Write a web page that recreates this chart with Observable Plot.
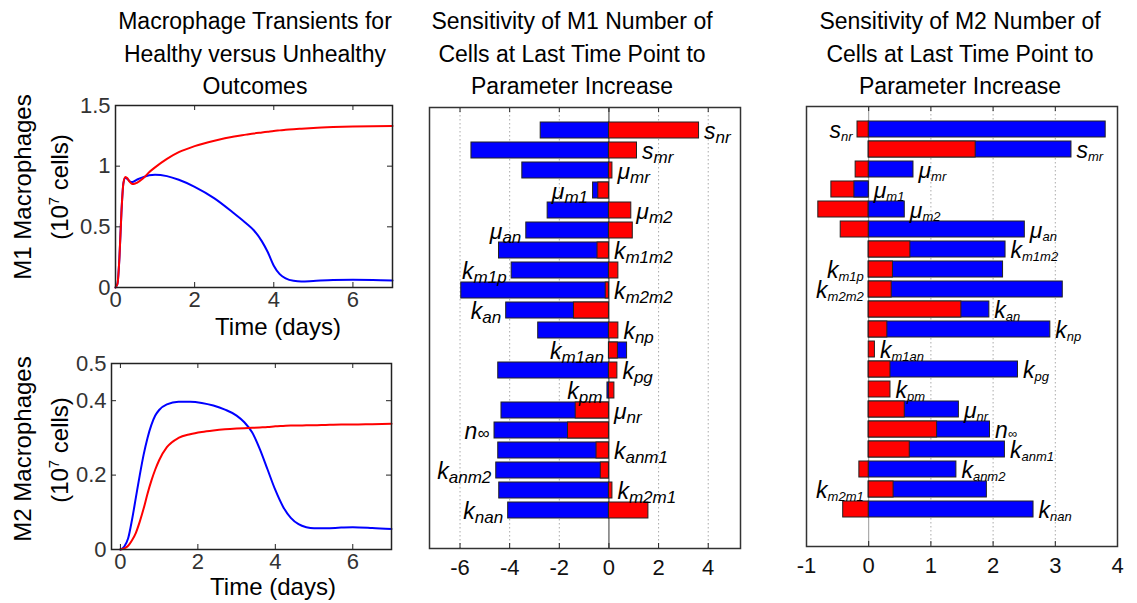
<!DOCTYPE html>
<html><head><meta charset="utf-8">
<script src="https://cdn.jsdelivr.net/npm/d3@7"></script>
<script src="https://cdn.jsdelivr.net/npm/@observablehq/plot@0.6"></script>
<style>
body{margin:0;background:#fff;}
#root{position:relative;width:1137px;height:603px;overflow:hidden;font-family:"Liberation Sans",Arial,sans-serif;background:#fff;}
.title{position:absolute;text-align:center;font-size:23px;line-height:32.5px;color:#000;white-space:nowrap;transform:translateX(-50%);}
.xlab{position:absolute;font-size:24px;line-height:24px;transform:translate(-50%,-50%);white-space:nowrap;color:#000;}
.ylab{position:absolute;font-size:24px;line-height:24px;transform:translate(-50%,-50%) rotate(-90deg);white-space:nowrap;color:#000;}
.ylab sup{font-size:15px;line-height:0;}
</style></head><body><div id="root"></div>
<script>
// ---------------- data ----------------
// transients (10^7 cells) vs time (days); blue = healthy outcome, red = unhealthy outcome
const m1Time = [0,0.05,0.1,0.15,0.2,0.25,0.3,0.35,0.4,0.45,0.55,0.7,0.85,1.0,1.3,1.6,2.0,2.5,3.0,3.3,3.5,3.7,3.85,4.0,4.15,4.3,4.5,4.7,5.0,5.5,6.0,6.5,7.0];
const m1Healthy = [0,0.03,0.25,0.62,0.86,0.905,0.895,0.878,0.87,0.872,0.89,0.91,0.925,0.93,0.918,0.888,0.83,0.735,0.61,0.53,0.47,0.38,0.29,0.18,0.11,0.075,0.055,0.05,0.054,0.061,0.063,0.062,0.058];
const m1Unhealthy = [0,0.03,0.25,0.62,0.86,0.91,0.9,0.875,0.858,0.852,0.865,0.9,0.95,0.99,1.06,1.115,1.165,1.21,1.245,1.26,1.27,1.278,1.284,1.29,1.295,1.3,1.305,1.309,1.315,1.322,1.327,1.33,1.332];
const m2Time = [0,0.1,0.2,0.3,0.4,0.5,0.6,0.7,0.8,0.9,1.0,1.2,1.5,1.8,2.1,2.4,2.7,3.0,3.2,3.4,3.6,3.8,4.0,4.2,4.4,4.6,4.8,5.0,5.3,5.7,6.0,6.5,7.0];
const m2Healthy = [0,0.008,0.03,0.08,0.14,0.2,0.255,0.3,0.335,0.36,0.375,0.39,0.397,0.397,0.394,0.387,0.376,0.36,0.342,0.315,0.27,0.215,0.16,0.115,0.085,0.068,0.06,0.057,0.057,0.059,0.06,0.058,0.055];
const m2Unhealthy = [0,0.003,0.01,0.025,0.045,0.075,0.11,0.15,0.185,0.215,0.24,0.275,0.3,0.31,0.316,0.32,0.323,0.325,0.326,0.327,0.328,0.329,0.331,0.332,0.333,0.333,0.334,0.334,0.335,0.336,0.336,0.337,0.338];
const m1YTicks = [0,0.5,1,1.5];
const m2YTicks = [0,0.2,0.4,0.5];
const timeTicks = [0,2,4,6];

// sensitivity bars (parameter name: base_subscript)
const params = ["s_nr","s_mr","μ_mr","μ_m1","μ_m2","μ_an","k_m1m2","k_m1p","k_m2m2","k_an","k_np","k_m1an","k_pg","k_pm","μ_nr","n_∞","k_anm1","k_anm2","k_m2m1","k_nan"];
const sensM1Healthy   = [-2.75,-5.54,-3.49,-0.64,-2.47,-3.33,-4.43,-3.92,-5.95,-4.14,-2.85,0.73,-4.46,-0.06,-4.33,-4.61,-4.46,-4.54,-4.42,-4.06];
const sensM1Unhealthy = [3.63,1.13,0.14,-0.43,0.90,0.96,-0.46,0.38,-0.13,-1.41,0.38,0.36,0.34,0.22,-1.34,-1.65,-0.50,-0.33,0.14,1.59];
const sensM2Healthy   = [3.81,3.26,0.72,-0.23,0.58,2.51,2.20,2.16,3.12,1.94,2.92,0,2.40,0,1.45,1.95,2.19,1.41,1.90,2.65];
const sensM2Unhealthy = [-0.18,1.72,-0.21,-0.60,-0.81,-0.45,0.67,0.39,0.37,1.49,0.30,0.10,0.35,0.35,0.58,1.10,0.66,-0.15,0.40,-0.41];
const m1XTicks = [-6,-4,-2,0,2,4];
const m2XTicks = [-1,0,1,2,3,4];

// ---------------- layout / style config ----------------
const BLUE = "#0000ff", RED = "#ff0000";
const m1LabelSide = ["R","R","R","L","R","L","R","L","R","L","R","L","R","L","R","L","R","L","R","L"];
const m2LabelSide = ["L","R","R","R","R","R","R","L","L","R","R","R","R","R","R","R","R","R","L","R"];
const FONT = '"Liberation Sans", Arial, sans-serif';
const root = document.getElementById("root");

function place(el, left, top) {
  el.style.position = "absolute"; el.style.left = left + "px"; el.style.top = top + "px";
  root.appendChild(el);
}
function html(cls, left, top, inner) {
  const d = document.createElement("div"); d.className = cls;
  d.style.left = left + "px"; d.style.top = top + "px"; d.innerHTML = inner; root.appendChild(d);
}

function linePanel(o) {
  const pw = o.width - o.ml - o.mr, ph = o.height - o.mt - o.mb;
  const dB = o.time.map((t, i) => ({t, v: o.healthy[i]}));
  const dR = o.time.map((t, i) => ({t, v: o.unhealthy[i]}));
  const svg = Plot.plot({
    width: o.width, height: o.height,
    marginLeft: o.ml, marginRight: o.mr, marginTop: o.mt, marginBottom: o.mb,
    x: {domain: o.xDomain}, y: {domain: o.yDomain},
    style: {fontFamily: FONT, fontSize: "22px", color: "#333", background: "transparent", overflow: "visible"},
    marks: [
      Plot.line(dB, {x: "t", y: "v", stroke: BLUE, strokeWidth: 2, curve: "monotone-x"}),
      Plot.line(dR, {x: "t", y: "v", stroke: RED, strokeWidth: 2, curve: "monotone-x"}),
      Plot.ruleX(timeTicks, {x: d => d, insetTop: ph - 5, stroke: "#222"}),
      Plot.ruleX(timeTicks, {x: d => d, insetBottom: ph - 5, stroke: "#222"}),
      Plot.ruleY(o.yTicks, {y: d => d, insetRight: pw - 5, stroke: "#222"}),
      Plot.ruleY(o.yTicks, {y: d => d, insetLeft: pw - 5, stroke: "#222"}),
      Plot.axisX(timeTicks, {tickSize: 0, tickPadding: 4, tickFormat: d => String(d), label: null}),
      Plot.axisY(o.yTicks, {tickSize: 0, tickPadding: 5, tickFormat: d => String(d), label: null}),
      Plot.frame({stroke: "#222", strokeWidth: 1.5})
    ]
  });
  place(svg, o.left, o.top);
}

function barPanel(o) {
  const pw = o.width - o.ml - o.mr, ph = o.height - o.mt - o.mb;
  const rows = [];
  params.forEach((p, i) => {
    rows.push({p, fill: BLUE, v: o.healthy[i]});
    rows.push({p, fill: RED, v: o.unhealthy[i]});
  });
  // longer bar drawn first so the shorter one stays visible on top
  const bars = rows.filter(d => d.v !== 0).sort((a, b) => Math.abs(b.v) - Math.abs(a.v));
  const labels = params.map((p, i) => ({
    p, side: o.sides[i],
    lo: Math.min(0, o.healthy[i], o.unhealthy[i]),
    hi: Math.max(0, o.healthy[i], o.unhealthy[i])
  }));
  const grid = o.xTicks.filter(t => t > o.xDomain[0] && t < o.xDomain[1] && t !== 0);
  const svg = Plot.plot({
    width: o.width, height: o.height,
    marginLeft: o.ml, marginRight: o.mr, marginTop: o.mt, marginBottom: o.mb,
    x: {domain: o.xDomain},
    y: {type: "band", domain: params, range: o.yRange, paddingInner: 0.2, paddingOuter: 0.1, axis: null},
    color: {type: "identity"},
    style: {fontFamily: FONT, fontSize: "22px", color: "#111", background: "transparent", overflow: "visible"},
    marks: [
      Plot.ruleX(grid, {x: d => d, stroke: "#aaa", strokeWidth: 1, strokeDasharray: "1.5,2.5"}),
      Plot.ruleX([0], {x: d => d, stroke: o.zeroStroke, strokeWidth: 1}),
      Plot.barX(bars, {x1: 0, x2: "v", y: "p", fill: "fill", stroke: "#222", strokeWidth: 1}),
      Plot.text(labels.filter(d => d.side === "R"), {x: "hi", y: "p", text: "p", textAnchor: "start", dx: 5, dy: 1,
        fontSize: o.mainSize, fontStyle: "italic", fill: "#000"}),
      Plot.text(labels.filter(d => d.side === "L"), {x: "lo", y: "p", text: "p", textAnchor: "end", dx: -5, dy: 1,
        fontSize: o.mainSize, fontStyle: "italic", fill: "#000"}),
      Plot.ruleX(grid.concat([0]), {x: d => d, insetTop: ph - 5, stroke: "#222"}),
      Plot.ruleX(grid.concat([0]), {x: d => d, insetBottom: ph - 5, stroke: "#222"}),
      Plot.axisX(o.xTicks, {tickSize: 0, tickPadding: 11, tickFormat: d => String(d), label: null}),
      Plot.frame({stroke: "#333", strokeWidth: 1.5})
    ]
  });
  d3.select(svg).selectAll("text").each(function () {
    const t = this.textContent;
    if (!t.includes("_")) return;
    const [a, b] = t.split("_");
    const s = d3.select(this);
    s.text(null);
    s.append("tspan").text(a);
    s.append("tspan").attr("font-size", o.subSize).attr("dy", b === "∞" ? 0 : o.subDy).text(b);
  });
  place(svg, o.left, o.top);
}

// ---------------- panels ----------------
linePanel({left: 0, top: 0, width: 400, height: 320, ml: 115, mr: 8, mt: 105, mb: 33,
  xDomain: [0, 7], yDomain: [0, 1.5], yTicks: m1YTicks,
  time: m1Time, healthy: m1Healthy, unhealthy: m1Unhealthy});
linePanel({left: 0, top: 340, width: 400, height: 240, ml: 111, mr: 9, mt: 23, mb: 31,
  xDomain: [-0.23, 7], yDomain: [0, 0.5], yTicks: m2YTicks,
  time: m2Time, healthy: m2Healthy, unhealthy: m2Unhealthy});

barPanel({left: 420, top: 100, width: 330, height: 490, ml: 9, mr: 10, mt: 7, mb: 42,
  xDomain: [-7.23, 5.3], xTicks: m1XTicks, yRange: [16.3, 423.7],
  healthy: sensM1Healthy, unhealthy: sensM1Unhealthy, sides: m1LabelSide,
  zeroStroke: "#333", mainSize: 23, subSize: 17, subDy: 4});
barPanel({left: 796, top: 100, width: 341, height: 490, ml: 10, mr: 20, mt: 6, mb: 44,
  xDomain: [-1, 4], xTicks: m2XTicks, yRange: [15.85, 421.85],
  healthy: sensM2Healthy, unhealthy: sensM2Unhealthy, sides: m2LabelSide,
  zeroStroke: "#999", mainSize: 23, subSize: 13, subDy: 3});

// ---------------- text ----------------
html("title", 255, 5, "Macrophage Transients for<br>Healthy versus Unhealthy<br>Outcomes");
html("title", 572, 5, "Sensitivity of M1 Number of<br>Cells at Last Time Point to<br>Parameter Increase");
html("title", 960, 5, "Sensitivity of M2 Number of<br>Cells at Last Time Point to<br>Parameter Increase");
html("xlab", 278, 327, "Time (days)");
html("xlab", 273, 587, "Time (days)");
html("ylab", 23, 187, "M1 Macrophages");
html("ylab", 60, 187, "(10<sup>7</sup> cells)");
html("ylab", 23, 449, "M2 Macrophages");
html("ylab", 60, 450, "(10<sup>7</sup> cells)");
</script></body></html>
